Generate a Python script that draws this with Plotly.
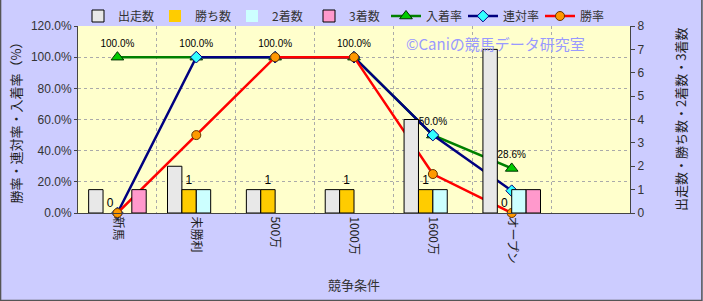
import plotly.graph_objects as go

categories = ["新馬", "未勝利", "500万", "1000万", "1600万", "オープン"]
starts = [1, 2, 1, 1, 4, 7]
wins = [0, 1, 1, 1, 1, 0]
seconds = [0, 1, 0, 0, 1, 1]
thirds = [1, 0, 0, 0, 0, 1]
place_rate = [100.0, 100.0, 100.0, 100.0, 50.0, 28.6]
rentai_rate = [0.0, 100.0, 100.0, 100.0, 50.0, 14.3]
win_rate = [0.0, 50.0, 100.0, 100.0, 25.0, 0.0]

FONT = "Liberation Sans, Noto Sans CJK JP, sans-serif"
JFONT = "Noto Sans CJK JP, sans-serif"

fig = go.Figure()

bar_specs = [
    ("出走数", starts, "#E8E8E8", False),
    ("勝ち数", wins, "#FFCC00", True),
    ("2着数", seconds, "#CCFFFF", False),
    ("3着数", thirds, "#FF99CC", False),
]
for name, vals, col, labelled in bar_specs:
    fig.add_trace(go.Bar(
        x=categories, y=vals, name=name, yaxis="y2",
        marker=dict(color=col, line=dict(color="#000000", width=[1 if v > 0 else 0 for v in vals])),
        text=[str(v) for v in vals] if labelled else None,
        textposition="outside" if labelled else None,
        textfont=dict(family=FONT, size=12, color="#000000"),
        cliponaxis=False,
    ))

fig.add_trace(go.Scatter(
    x=categories, y=place_rate, name="入着率", mode="lines+markers+text",
    line=dict(color="#008000", width=2.5),
    marker=dict(symbol="triangle-up", size=11, color="#00CC00", line=dict(color="#003300", width=1)),
    text=[f"{v:.1f}%" for v in place_rate], textposition="top center",
    textfont=dict(family=FONT, size=10, color="#000000"),
    cliponaxis=False,
))
fig.add_trace(go.Scatter(
    x=categories, y=rentai_rate, name="連対率", mode="lines+markers",
    line=dict(color="#000080", width=2.5),
    marker=dict(symbol="diamond", size=9, color="#33FFFF", line=dict(color="#000080", width=1)),
    cliponaxis=False,
))
fig.add_trace(go.Scatter(
    x=categories, y=win_rate, name="勝率", mode="lines+markers",
    line=dict(color="#FF0000", width=2.5),
    marker=dict(symbol="circle", size=9, color="#FF9900", line=dict(color="#663300", width=1)),
    cliponaxis=False,
))

fig.add_annotation(
    text="©Caniの競馬データ研究室", x=(495 - 78) / 552, y=(213 - 43) / 187,
    xref="paper", yref="paper", xanchor="center", yanchor="middle",
    showarrow=False, font=dict(family=JFONT, size=15, color="#9999FF"),
)
fig.add_annotation(
    text="出走数・勝ち数・2着数・3着数", textangle=-90,
    x=(680 - 78) / 552, y=(213 - 120) / 187, xref="paper", yref="paper",
    xanchor="center", yanchor="middle", showarrow=False,
    font=dict(family=JFONT, size=13, color="#222222"),
)

fig.add_shape(type="rect", xref="paper", yref="paper",
              x0=-78/552 + 0.001, x1=(703-78)/552 - 0.002,
              y0=-88/187 + 0.003, y1=(301-26)/187 + 26/187 - 0.003,
              line=dict(color="#555555", width=1.5), layer="above")

fig.update_layout(
    width=703, height=301,
    margin=dict(l=78, r=73, t=26, b=88, autoexpand=False),
    paper_bgcolor="#CCCCFF", plot_bgcolor="#FFFFCC",
    barmode="group", bargap=0.27, bargroupgap=0,
    showlegend=True,
    legend=dict(orientation="h", x=0.0, xanchor="left", yref="container", y=0.995, yanchor="top",
                font=dict(family=JFONT, size=12, color="#333333"),
                bgcolor="rgba(0,0,0,0)", entrywidth=32, entrywidthmode="pixels",
                itemwidth=30, tracegroupgap=0),
    xaxis=dict(
        range=[-0.5, 6.5], type="category", tickson="boundaries",
        tickangle=90, tickfont=dict(family=JFONT, size=12, color="#222222"),
        showgrid=True, gridcolor="#AAAAAA", griddash="dot", gridwidth=1,
        showline=True, linecolor="#444444", linewidth=1,
        ticks="", title=dict(text="競争条件", font=dict(family=JFONT, size=13, color="#333333"), standoff=18),
    ),
    yaxis=dict(
        range=[0, 120], dtick=20, tickformat=".1f", ticksuffix="%",
        tickfont=dict(family=FONT, size=12, color="#333333"),
        showgrid=True, gridcolor="#AAAAAA", griddash="dot", gridwidth=1,
        showline=True, linecolor="#444444", linewidth=1, ticks="outside", ticklen=3,
        zeroline=False,
        title=dict(text="勝率・連対率・入着率（%）", font=dict(family=JFONT, size=13, color="#222222"), standoff=6),
    ),
    yaxis2=dict(
        range=[0, 8], dtick=1, overlaying="y", side="right",
        tickfont=dict(family=FONT, size=12, color="#333333"),
        showgrid=False, showline=True, linecolor="#444444", linewidth=1,
        ticks="outside", ticklen=4, zeroline=False,
    ),
)

fig.write_html("out.html")
